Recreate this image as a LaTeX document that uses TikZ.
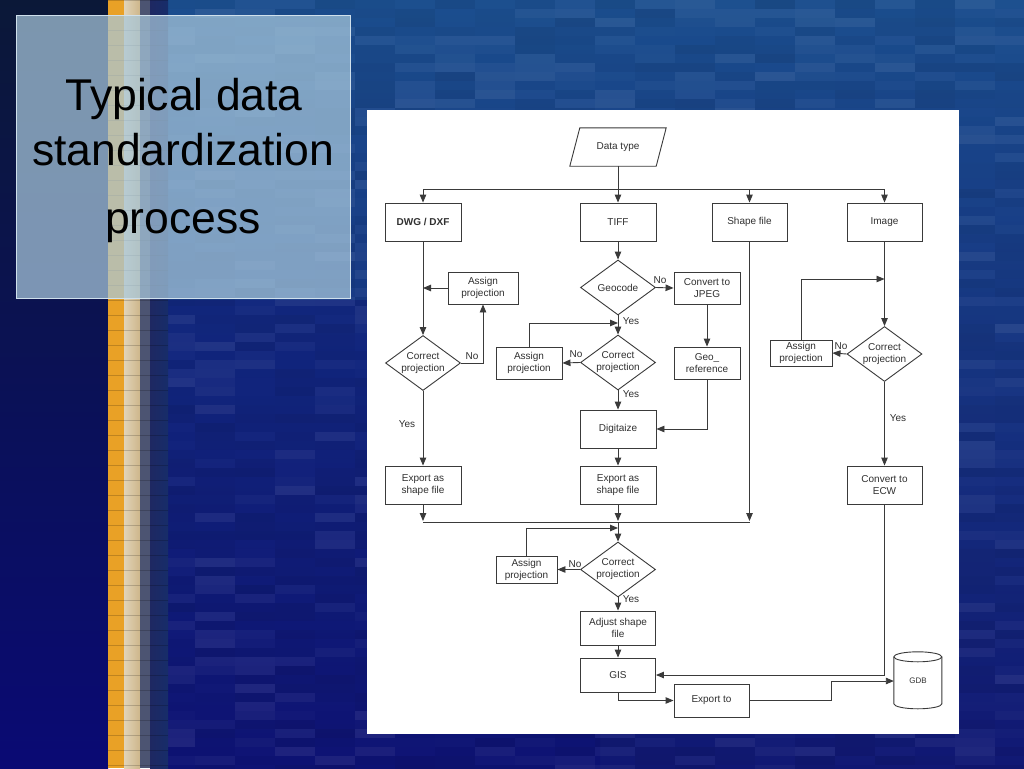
\documentclass[tikz,border=0pt]{standalone}
\usepackage{fontspec}
\setmainfont{Liberation Sans}
\usetikzlibrary{arrows.meta,shapes.geometric,calc}
\definecolor{ln}{HTML}{3A3A3A}
\definecolor{tx}{HTML}{303030}
\definecolor{bgtop}{HTML}{1B4E8E}
\definecolor{bgmid}{HTML}{12306F}
\definecolor{bgbot}{HTML}{111874}
\definecolor{navy}{HTML}{0A0A74}
\definecolor{navytop}{HTML}{0B1838}
\definecolor{orng}{HTML}{E9A126}
\definecolor{beige}{HTML}{CDB68A}
\definecolor{stgray}{HTML}{4C5472}
\definecolor{sttr}{HTML}{1E2862}
\definecolor{tbox}{HTML}{A8C8DC}
\definecolor{tboxln}{HTML}{CFE0EC}
\newfontfamily\ff{Liberation Sans}
\tikzset{
  flw/.style={draw=ln, line width=0.9pt},
  arr/.style={flw, -{Triangle[length=8pt,width=6.5pt]}},
  box/.style={rectangle, draw=ln, line width=0.9pt, fill=white, text=tx, align=center, inner sep=1pt, font=\ff\fontsize{10}{12}\selectfont},
  dec/.style={diamond, draw=ln, line width=0.9pt, fill=white, text=tx, align=center, inner sep=0pt, aspect=1.36, minimum width=75pt, minimum height=55pt, font=\ff\fontsize{10}{12}\selectfont},
  lab/.style={text=tx, inner sep=0pt, font=\ff\fontsize{10}{12}\selectfont},
  ttl/.style={text=black, inner sep=0pt, anchor=base, font=\ff\fontsize{44.5}{50}\selectfont}
}
\begin{document}
\begin{tikzpicture}[x=1pt,y=-1pt]
\useasboundingbox (0,0) rectangle (1024,768);
% ---------- background ----------
\shade[top color=bgtop, middle color=bgmid, bottom color=bgbot] (150,0) rectangle (1024,768);
\shade[left color=navy, right color=navy, opacity=0.35] (150,300) rectangle (600,768);
\shade[top color=navytop, middle color=navy, bottom color=navy] (0,0) rectangle (108,768);
\pgfmathsetseed{42}
\foreach \i in {0,...,21}{
  \foreach \j in {0,...,85}{
    \pgfmathsetmacro{\o}{0.07*rnd}
    \pgfmathsetmacro{\w}{rnd}
    \ifdim\w pt>0.6pt \def\cc{white}\else\def\cc{black}\fi
    \fill[\cc,opacity=\o] (155+40*\i,9*\j) rectangle ++(40,9);
  }
}
\fill[orng] (108,0) rectangle (124,768);
\shade[left color=beige!60!white, right color=beige] (124,0) rectangle (140,768);
\fill[stgray] (140,0) rectangle (150,768);
\shade[left color=sttr, right color=sttr!40!bgmid] (150,0) rectangle (168,768);
\foreach \y in {0,15,...,768} \draw[black,opacity=.18,line width=.6pt] (108,\y) -- (168,\y);
% ---------- title box ----------
\draw[fill=tbox, fill opacity=0.72, draw=tboxln, line width=1pt] (16,16) rectangle (350,298);
\node[ttl] (t1) at (184,110) {Typical data};
\node[ttl] (t2) at (183,165) {standardization};
\node[ttl] (t3) at (183,233) {process};
% ---------- white panel ----------
\fill[white] (367,110) rectangle (959,734);
% ---------- flowchart nodes ----------
\node[rectangle, minimum width=86pt, minimum height=38pt, inner sep=0pt, text=tx, font=\ff\fontsize{10}{12}\selectfont] (dt) at (618,147) {Data type};
\draw[flw] ($(dt.north west)+(5,0)$) -- ($(dt.north east)+(5,0)$) -- ($(dt.south east)+(-5,0)$) -- ($(dt.south west)+(-5,0)$) -- cycle;

\node[box, minimum width=76pt, minimum height=38pt, font=\ff\bfseries\fontsize{10}{12}\selectfont] (dwg) at (423,222) {DWG / DXF};
\node[box, minimum width=76pt, minimum height=38pt] (tiff) at (618,222) {TIFF};
\node[box, minimum width=75pt, minimum height=38pt] (shp) at (749.5,222) {Shape file};
\node[box, minimum width=75pt, minimum height=38pt] (img) at (884.5,222) {Image};

\node[dec] (geo) at (618,287.5) {Geocode};
\node[box, minimum width=66pt, minimum height=32pt] (jpeg) at (707,288) {Convert to\\JPEG};
\node[box, minimum width=66pt, minimum height=32pt] (georef) at (707,363) {Geo\_\\reference};
\node[dec] (cp2) at (618,362.5) {Correct\\projection};
\node[box, minimum width=66pt, minimum height=32pt] (ap2) at (529,363) {Assign\\projection};
\node[box, minimum width=76pt, minimum height=38pt] (dig) at (618,429) {Digitaize};
\node[box, minimum width=76pt, minimum height=38pt] (ex2) at (618,485) {Export as\\shape file};

\node[dec] (cp1) at (423,363) {Correct\\projection};
\node[box, minimum width=70pt, minimum height=32pt] (ap1) at (483,288) {Assign\\projection};
\node[box, minimum width=76pt, minimum height=38pt] (ex1) at (423,485) {Export as\\shape file};

\node[dec] (cp4) at (884.5,354) {Correct\\projection};
\node[box, minimum width=62pt, minimum height=26pt] (ap4) at (801,353) {Assign\\projection};
\node[box, minimum width=75pt, minimum height=38pt] (ecw) at (884.5,485) {Convert to\\ECW};

\node[dec] (cp3) at (618,569.5) {Correct\\projection};
\node[box, minimum width=61pt, minimum height=27pt] (ap3) at (526.5,569.5) {Assign\\projection};
\node[box, minimum width=75pt, minimum height=34pt] (adj) at (618,628) {Adjust shape\\file};
\node[box, minimum width=75pt, minimum height=34pt] (gis) at (618,675) {GIS};
\node[box, minimum width=75pt, minimum height=33pt] (expto) at (711.5,700.5) {Export to};

\node[rectangle, minimum width=48pt, minimum height=58pt, inner sep=0pt, text=tx, font=\ff\fontsize{8}{10}\selectfont] (gdb) at (918,681) {GDB};
\draw[flw] (gdb.north west) ++(0,5) -- ++(0,47) arc[start angle=180, end angle=360, x radius=24pt, y radius=5pt] -- ++(0,-47);
\draw[flw] ($(gdb.north west)+(0,5)$) arc[start angle=180, end angle=-180, x radius=24pt, y radius=5pt];

% ---------- coordinates ----------
\coordinate (top) at (618,189);
\coordinate (bj) at (618,522);
\coordinate (fb2) at (618,323);
\coordinate (fb3) at (618,528);
\coordinate (fb4) at (884.5,279);
\coordinate (gb) at (831,690);

% ---------- connectors ----------
\draw[arr] (dt) -- (tiff);
\draw[arr] (top) -| (dwg.north);
\draw[arr] (top) -| (img.north);
\draw[arr] (shp.north |- top) -- (shp.north);

\draw[arr] (dwg) -- (cp1);
\draw[arr] (ap1.west) -- (ap1.west -| dwg.south);
\draw[arr] (cp1.east) -| (ap1.south);
\draw[arr] (cp1) -- (ex1);

\draw[arr] (tiff) -- (geo);
\draw[arr] (geo.east) -- (jpeg.west);
\draw[arr] (jpeg) -- (georef);
\draw[arr] (georef.south) |- (dig.east);
\draw[arr] (ap2.north) |- (fb2);
\draw[arr] (geo) -- (cp2);
\draw[arr] (cp2.west) -- (ap2.east);
\draw[arr] (cp2) -- (dig);
\draw[arr] (dig) -- (ex2);

\draw[arr] (img) -- (cp4);
\draw[arr] (ap4.north) |- (fb4);
\draw[arr] (cp4.west) -- (ap4.east);
\draw[arr] (cp4) -- (ecw);

\draw[flw] (ex1.south |- bj) -- (shp.south |- bj);
\draw[arr] (ex1) -- ($(ex1.south |- bj)+(0,-1)$);
\draw[arr] (ex2) -- ($(bj)+(0,-1)$);
\draw[arr] (shp) -- ($(shp.south |- bj)+(0,-1)$);
\draw[arr] (bj) -- (cp3.north);
\draw[arr] (ap3.north) |- (fb3);
\draw[arr] (cp3.west) -- (ap3.east);
\draw[arr] (cp3) -- (adj);
\draw[arr] (adj) -- (gis);
\draw[arr] (gis.south) |- (expto.west);
\draw[arr] (expto.east) -| (gb) |- (gdb.west);
\draw[arr] (ecw.south) |- (gis.east);

% ---------- labels ----------
\node[lab] (lno1) at (472,356) {No};
\node[lab] (lyes1) at (407,424) {Yes};
\node[lab] (lno0) at (660,280) {No};
\node[lab] (lyes0) at (631,321) {Yes};
\node[lab] (lno2) at (576,354) {No};
\node[lab] (lyes2) at (631,394) {Yes};
\node[lab] (lno4) at (841,346) {No};
\node[lab] (lyes4) at (898,418) {Yes};
\node[lab] (lno3) at (575,564) {No};
\node[lab] (lyes3) at (631,599) {Yes};
\end{tikzpicture}
\end{document}
